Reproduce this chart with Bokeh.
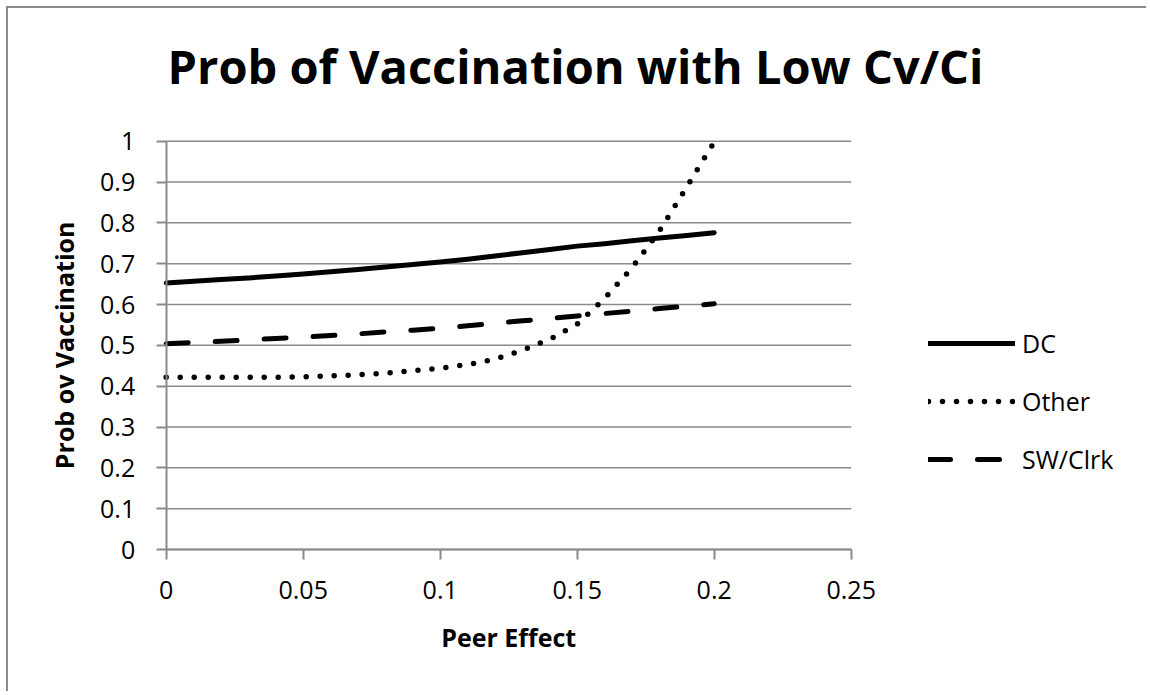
import math
from bokeh.plotting import figure
from bokeh.models import Legend, LegendItem, Label, FixedTicker, Range1d
from bokeh.embed import file_html
from bokeh.resources import INLINE

# ---- data ----
peer_effect = [0.00, 0.01, 0.02, 0.03, 0.04, 0.05, 0.06, 0.07, 0.08, 0.09, 0.10,
               0.11, 0.12, 0.13, 0.14, 0.15, 0.16, 0.17, 0.18, 0.19, 0.20]
dc = [0.653, 0.657, 0.661, 0.665, 0.670, 0.675, 0.680, 0.686, 0.692, 0.698, 0.704,
      0.711, 0.719, 0.727, 0.735, 0.743, 0.749, 0.756, 0.763, 0.769, 0.776]
other = [0.422, 0.422, 0.422, 0.422, 0.422, 0.423, 0.425, 0.428, 0.432, 0.438, 0.444,
         0.453, 0.466, 0.488, 0.515, 0.552, 0.615, 0.690, 0.780, 0.888, 0.998]
sw_clrk = [0.504, 0.507, 0.510, 0.513, 0.517, 0.520, 0.524, 0.528, 0.533, 0.537, 0.542,
           0.548, 0.554, 0.560, 0.566, 0.572, 0.578, 0.584, 0.590, 0.596, 0.602]
series_names = ["DC", "Other", "SW/Clrk"]
x_ticks = [0, 0.05, 0.1, 0.15, 0.2, 0.25]
x_tick_labels = ["0", "0.05", "0.1", "0.15", "0.2", "0.25"]
y_ticks = [0, 0.1, 0.2, 0.3, 0.4, 0.5, 0.6, 0.7, 0.8, 0.9, 1.0]
y_tick_labels = ["0", "0.1", "0.2", "0.3", "0.4", "0.5", "0.6", "0.7", "0.8", "0.9", "1"]
x_axis_bounds = (0, 0.25)
y_axis_bounds = (0, 1)
title_text = "Prob of Vaccination with Low Cv/Ci"
x_title = "Peer Effect"
y_title = "Prob ov Vaccination"

# ---- layout constants (canvas pixels) ----
W, H = 1140, 685
BOX_L, BOX_B = 157.7, 144.0      # axis-box origin: from canvas left / canvas bottom
BOX_W, BOX_H = 685.0, 408.3      # axis-box size in pixels
kx = BOX_W / (x_axis_bounds[1] - x_axis_bounds[0])
ky = BOX_H / (y_axis_bounds[1] - y_axis_bounds[0])
x_start = x_axis_bounds[0] - BOX_L / kx
y_start = y_axis_bounds[0] - BOX_B / ky

# the frame covers the whole canvas; axes are pinned at 0 so nothing is clipped
p = figure(width=W, height=H, output_backend="svg", toolbar_location=None,
           x_range=Range1d(x_start, x_start + W / kx),
           y_range=Range1d(y_start, y_start + H / ky),
           min_border_left=0, min_border_right=0, min_border_top=0, min_border_bottom=0)
p.outline_line_color = None
p.background_fill_color = "white"
p.border_fill_color = "white"

GRID = "#8a8a8a"
FONT = "Open Sans"

# chart border (top and left edges, like the reference)
p.styles = {"border-top": "2px solid #8a8a8a", "border-left": "2px solid #8a8a8a",
            "margin-top": "6px", "margin-left": "6px"}

# horizontal grid lines limited to the axis box
p.xgrid.visible = False
p.ygrid.visible = False
p.segment(x0=[x_axis_bounds[0]] * len(y_ticks), x1=[x_axis_bounds[1]] * len(y_ticks),
          y0=y_ticks, y1=y_ticks, line_color=GRID, line_width=1.5)

for ax in (p.xaxis[0], p.yaxis[0]):
    ax.fixed_location = 0
    ax.axis_line_color = GRID
    ax.axis_line_width = 2
    ax.major_tick_line_color = GRID
    ax.major_tick_line_width = 2
    ax.major_tick_out = 10
    ax.major_tick_in = 0
    ax.minor_tick_line_color = None
    ax.major_label_text_font = FONT
    ax.major_label_text_font_size = "25px"
    ax.major_label_text_color = "black"

p.xaxis.bounds = x_axis_bounds
p.yaxis.bounds = y_axis_bounds
p.xaxis.ticker = FixedTicker(ticks=x_ticks)
p.xaxis.major_label_overrides = dict(zip(x_ticks, x_tick_labels))
p.yaxis.ticker = FixedTicker(ticks=y_ticks)
p.yaxis.major_label_overrides = dict(zip(y_ticks, y_tick_labels))
p.xaxis.major_label_standoff = 21
p.yaxis.major_label_standoff = 21

# ---- lines ----
r_dc = p.line(peer_effect, dc, line_color="black", line_width=5,
              line_cap="round", line_join="round")
r_other = p.line(peer_effect, other, line_color="black", line_width=5.5,
                 line_dash="0 14", line_cap="round", line_join="round")
r_sw = p.line(peer_effect, sw_clrk, line_color="black", line_width=5,
              line_dash="22 27", line_cap="round", line_join="round")

legend = Legend(items=[LegendItem(label=series_names[0], renderers=[r_dc]),
                       LegendItem(label=series_names[1], renderers=[r_other]),
                       LegendItem(label=series_names[2], renderers=[r_sw])],
                location=(920, 217), glyph_width=87, glyph_height=34, label_height=34,
                spacing=24, padding=0, margin=0, label_standoff=7,
                border_line_color=None, background_fill_alpha=0,
                label_text_font=FONT, label_text_font_size="25px",
                label_text_color="black")
p.add_layout(legend)

# ---- titles ----
p.add_layout(Label(x=567, y=628, x_units="screen", y_units="screen", text=title_text,
                   text_align="center", text_baseline="alphabetic",
                   text_font=FONT, text_font_style="bold", text_font_size="47px",
                   text_color="black"))
p.add_layout(Label(x=BOX_L + BOX_W / 2, y=57, x_units="screen", y_units="screen",
                   text=x_title, text_align="center", text_baseline="alphabetic",
                   text_font=FONT, text_font_style="bold", text_font_size="25px",
                   text_color="black"))
p.add_layout(Label(x=55, y=BOX_B + BOX_H / 2, x_units="screen", y_units="screen",
                   text=y_title, angle=math.pi / 2, text_align="center",
                   text_baseline="alphabetic",
                   text_font=FONT, text_font_style="bold", text_font_size="25px",
                   text_color="black"))

open("out.html", "w").write(file_html(p, INLINE))
